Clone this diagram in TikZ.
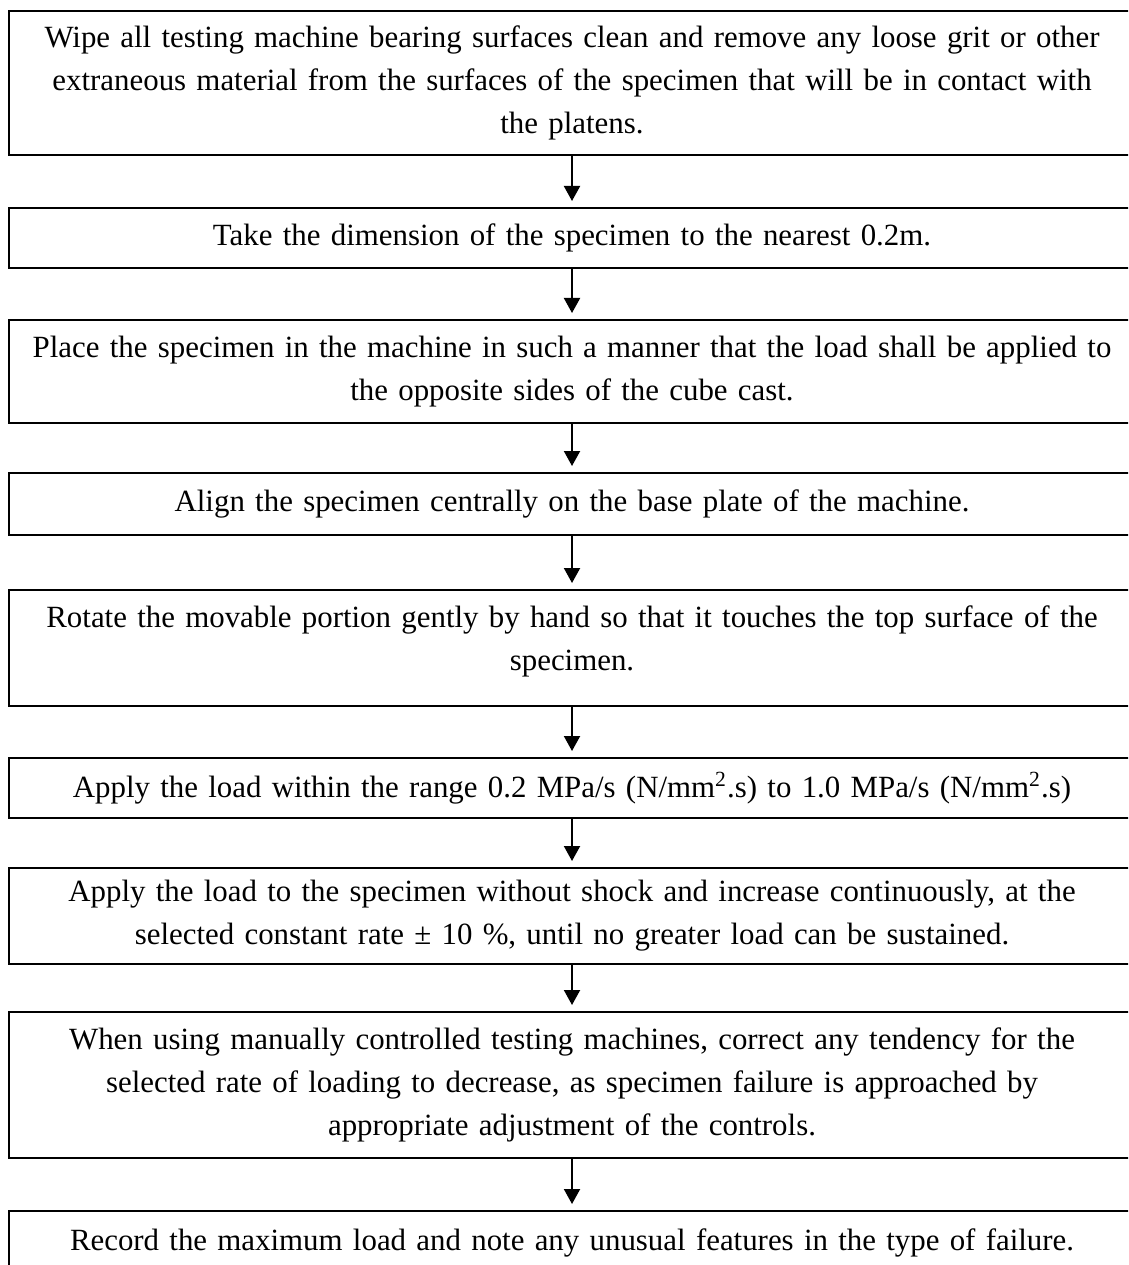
\documentclass[tikz,border=0pt]{standalone}
\usepackage{fontspec}
\setmainfont{Liberation Serif}
\usetikzlibrary{arrows.meta}
\tikzset{
  stepbox/.style={draw=black, line width=0.8pt, fill=white,
    minimum width=1126*0.4pt, text width=446pt, inner xsep=2pt,
    align=center, font=\fontsize{12.35}{17.2}\selectfont},
  flowarrow/.style={line width=0.8pt, -{Triangle[length=6pt,width=6.4pt]}, shorten >=2.4pt}
}
\begin{document}
\begin{tikzpicture}[x=0.4pt, y=-0.4pt]
\useasboundingbox (0,0) rectangle (1128,1265);
\fill[white] (0,0) rectangle (1128,1265);
\clip (0,0) rectangle (1128,1265);
\node[stepbox, minimum height=144*0.4pt] (b1) at (572,83)
  {Wipe all testing machine bearing surfaces clean and remove any loose grit or other\\
   extraneous material from the surfaces of the specimen that will be in contact with\\
   the platens.};
\node[stepbox, minimum height=60*0.4pt] (b2) at (572,238)
  {Take the dimension of the specimen to the nearest 0.2m.};
\node[stepbox, minimum height=103*0.4pt] (b3) at (572,371.5)
  {Place the specimen in the machine in such a manner that the load shall be applied to\\
   the opposite sides of the cube cast.};
\node[stepbox, minimum height=62*0.4pt] (b4) at (572,504)
  {Align the specimen centrally on the base plate of the machine.};
\node[stepbox, minimum height=116*0.4pt] (b5) at (572,648)
  {Rotate the movable portion gently by hand so that it touches the top surface of the\\
   specimen.\rule[-8pt]{0pt}{0pt}};
\node[stepbox, minimum height=60*0.4pt] (b6) at (572,788)
  {Apply the load within the range 0.2 MPa/s (N/mm\textsuperscript{2}.s) to 1.0 MPa/s (N/mm\textsuperscript{2}.s)};
\node[stepbox, minimum height=96*0.4pt] (b7) at (572,916)
  {Apply the load to the specimen without shock and increase continuously, at the\\
   selected constant rate ± 10 \%, until no greater load can be sustained.};
\node[stepbox, minimum height=146*0.4pt] (b8) at (572,1085)
  {When using manually controlled testing machines, correct any tendency for the\\
   selected rate of loading to decrease, as specimen failure is approached by\\
   appropriate adjustment of the controls.};
\node[stepbox, minimum height=64*0.4pt] (b9) at (572,1243)
  {Record the maximum load and note any unusual features in the type of failure.};
\draw[flowarrow] (b1.south) -- (b2.north);
\draw[flowarrow] (b2.south) -- (b3.north);
\draw[flowarrow] (b3.south) -- (b4.north);
\draw[flowarrow] (b4.south) -- (b5.north);
\draw[flowarrow] (b5.south) -- (b6.north);
\draw[flowarrow] (b6.south) -- (b7.north);
\draw[flowarrow] (b7.south) -- (b8.north);
\draw[flowarrow] (b8.south) -- (b9.north);
\end{tikzpicture}
\end{document}
